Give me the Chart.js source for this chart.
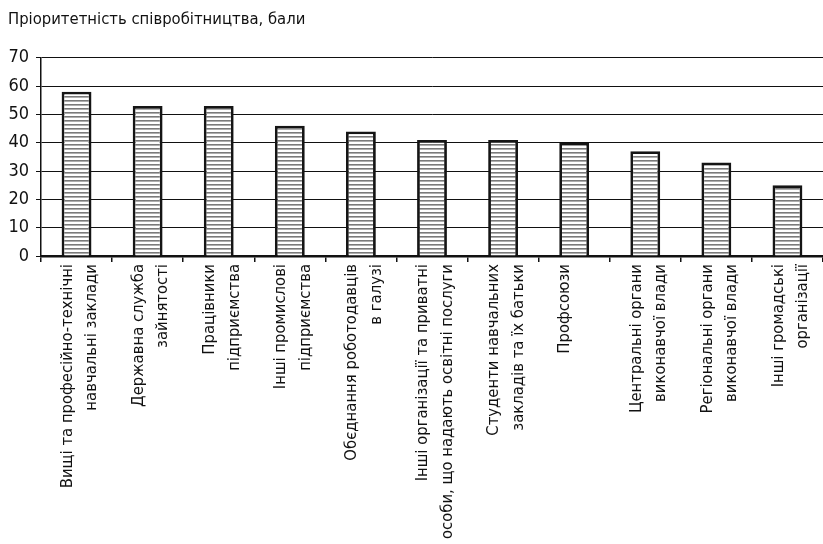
<!DOCTYPE html>
<html lang="uk">
<head>
  <meta charset="UTF-8" />
  <title>Пріоритетність співробітництва</title>
  <script src="https://cdn.jsdelivr.net/npm/chart.js"></script>
  <style>
    html, body { margin: 0; padding: 0; background: #fff; }
    #wrap { width: 823px; height: 544px; }
  </style>
</head>
<body>
  <div id="wrap"><canvas id="chart"></canvas></div>
  <script>
    const TITLE = "Пріоритетність співробітництва, бали";
    const categories = [
      ["Вищі та професійно-технічні", "навчальні заклади"],
      ["Державна служба", "зайнятості"],
      ["Працівники", "підприємства"],
      ["Інші промислові", "підприємства"],
      ["Обєднання роботодавців", "в галузі"],
      ["Інші організації та приватні", "особи, що надають освітні послуги"],
      ["Студенти навчальних", "закладів та їх батьки"],
      ["Профсоюзи"],
      ["Центральні органи", "виконавчої влади"],
      ["Регіональні органи", "виконавчої влади"],
      ["Інші громадські", "організації"]
    ];
    const scores = [58, 53, 53, 46, 44, 41, 41, 40, 37, 33, 25];
    const yTicks = [0, 10, 20, 30, 40, 50, 60, 70];

    const FONT = "'Liberation Sans Narrow', 'DejaVu Sans Condensed', sans-serif";
    const LABEL_SIZE = 16.5;

    // horizontal hatching like the printed original
    function hatch() {
      const c = document.createElement("canvas");
      c.width = 8; c.height = 4;
      const g = c.getContext("2d");
      g.fillStyle = "#fff";
      g.fillRect(0, 0, 8, 4);
      g.fillStyle = "#7a7a7a";
      g.fillRect(0, 0, 8, 1.6);
      return g.createPattern(c, "repeat");
    }

    const ctx = document.getElementById("chart").getContext("2d");
    new Chart(ctx, {
      type: "bar",
      data: {
        labels: categories,
        datasets: [{
          data: scores,
          backgroundColor: hatch(),
          borderColor: "#151515",
          borderWidth: 2.8,
          categoryPercentage: 1,
          barPercentage: 0.42
        }]
      },
      options: {
        responsive: true,
        maintainAspectRatio: false,
        animation: false,
        layout: { padding: { left: 8, right: 0, top: 0, bottom: 0 } },
        plugins: {
          legend: { display: false },
          tooltip: { enabled: false },
          title: {
            display: true,
            text: TITLE,
            align: "start",
            color: "#111",
            font: { family: FONT, size: 16.5, weight: "normal" },
            padding: { top: 10, bottom: 28 }
          }
        },
        scales: {
          x: {
            afterFit: axis => {
              axis.height = 288;
              axis.paddingLeft = 0;
              axis.paddingRight = 0;
            },
            grid: {
              offset: true,
              drawOnChartArea: false,
              color: "#111",
              tickLength: 6,
              lineWidth: 1.5
            },
            border: { color: "#111", width: 2.5 },
            ticks: {
              color: "#111",
              minRotation: 90,
              maxRotation: 90,
              autoSkip: false,
              labelOffset: -9,
              // two-line labels are centred by labelOffset, the single one by its own line height
              font: c => ({
                family: FONT,
                size: LABEL_SIZE,
                lineHeight: categories[c.index] && categories[c.index].length > 1 ? "24.5px" : "10px"
              }),
              padding: 2
            }
          },
          y: {
            min: 0,
            max: 70,
            afterFit: axis => { axis.width = 33; },
            afterBuildTicks: axis => { axis.ticks = yTicks.map(v => ({ value: v })); },
            grid: { color: "#111", lineWidth: 1, tickLength: 5 },
            border: { color: "#111", width: 1.5 },
            ticks: {
              color: "#111",
              font: { family: FONT, size: 18 },
              padding: 7
            }
          }
        }
      }
    });
  </script>
</body>
</html>
